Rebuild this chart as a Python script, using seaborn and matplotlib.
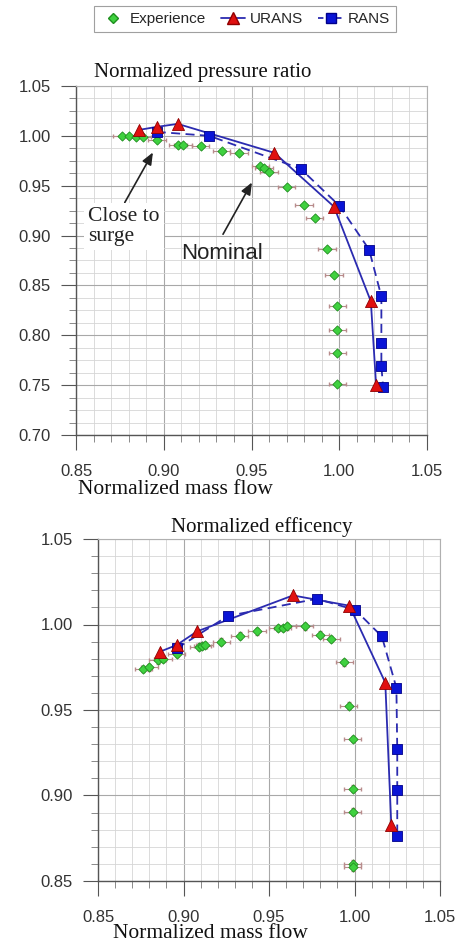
import numpy as np
import pandas as pd
import matplotlib
matplotlib.use("Agg")
import matplotlib.pyplot as plt
import seaborn as sns
from matplotlib.ticker import MultipleLocator, FormatStrFormatter
from matplotlib.lines import Line2D

# ---------------- data ----------------
# Normalized pressure ratio
exp_pr_x = [0.876, 0.880, 0.884, 0.888, 0.896, 0.908, 0.911, 0.921, 0.933, 0.943,
            0.955, 0.957, 0.960, 0.970, 0.980, 0.986, 0.993, 0.997, 0.999, 0.999,
            0.999, 0.999]
exp_pr_y = [1.000, 1.000, 0.999, 0.999, 0.996, 0.991, 0.991, 0.990, 0.985, 0.983,
            0.970, 0.968, 0.964, 0.949, 0.931, 0.918, 0.887, 0.860, 0.829, 0.805,
            0.782, 0.751]
urans_pr_x = [0.886, 0.896, 0.908, 0.963, 0.997, 1.018, 1.021]
urans_pr_y = [1.006, 1.009, 1.012, 0.983, 0.929, 0.834, 0.750]
rans_pr_x = [0.896, 0.926, 0.978, 1.000, 1.017, 1.024, 1.024, 1.024, 1.025]
rans_pr_y = [1.004, 1.000, 0.967, 0.930, 0.886, 0.839, 0.792, 0.769, 0.748]

# Normalized efficiency
exp_ef_x = [0.8765, 0.880, 0.885, 0.888, 0.896, 0.909, 0.911, 0.9125, 0.922, 0.933,
            0.943, 0.955, 0.958, 0.9605, 0.971, 0.980, 0.9865, 0.994, 0.9965, 0.999,
            0.999, 0.999, 0.999, 0.999]
exp_ef_y = [0.974, 0.975, 0.979, 0.980, 0.983, 0.987, 0.9875, 0.988, 0.990, 0.9935,
            0.996, 0.998, 0.998, 0.999, 0.999, 0.994, 0.9915, 0.978, 0.9525, 0.933,
            0.904, 0.8905, 0.860, 0.858]
urans_ef_x = [0.886, 0.896, 0.908, 0.964, 0.997, 1.018, 1.0215]
urans_ef_y = [0.984, 0.988, 0.996, 1.017, 1.011, 0.966, 0.883]
rans_ef_x = [0.896, 0.926, 0.978, 1.0005, 1.016, 1.0245, 1.025, 1.025, 1.025]
rans_ef_y = [0.986, 1.005, 1.015, 1.0085, 0.993, 0.963, 0.927, 0.903, 0.8765]

# ---------------- style ----------------
sns.set_theme(style="white")
plt.rcParams["font.family"] = ["Liberation Sans", "DejaVu Sans"]
SERIF = ["Liberation Serif", "DejaVu Serif"]

GREEN = "#3fd13f"
RED = "#e01010"
BLUE = "#0a14d6"
LINE = "#2b2bb0"

fig = plt.figure(figsize=(4.59, 9.42), dpi=100)
W, H = 459, 942
ax1 = fig.add_axes([76 / W, 1 - 435 / H, 351 / W, 349 / H])
ax2 = fig.add_axes([98 / W, 1 - 881 / H, 342 / W, 342 / H])


def draw(ax, ex, ey, ux, uy, rx, ry, xerr, yerr):
    ax.errorbar(ex, ey, xerr=xerr, yerr=yerr, fmt="none", ecolor="#b88c8c",
                elinewidth=0.8, capsize=1.5, zorder=3)
    sns.scatterplot(x=ex, y=ey, marker="D", s=22, color=GREEN, edgecolor="#1f8f1f",
                    linewidth=0.6, ax=ax, zorder=4)
    du = pd.DataFrame({"x": ux, "y": uy})
    dr = pd.DataFrame({"x": rx, "y": ry})
    sns.lineplot(data=du, x="x", y="y", sort=False, estimator=None, color=LINE,
                 lw=1.3, ax=ax, zorder=5)
    sns.lineplot(data=dr, x="x", y="y", sort=False, estimator=None, color=LINE,
                 lw=1.3, linestyle=(0, (5, 3)), ax=ax, zorder=5)
    sns.scatterplot(data=dr, x="x", y="y", marker="s", s=55, color=BLUE,
                    edgecolor="#00008a", linewidth=0.6, ax=ax, zorder=6)
    sns.scatterplot(data=du, x="x", y="y", marker="^", s=75, color=RED,
                    edgecolor="#900000", linewidth=0.6, ax=ax, zorder=7)


def style(ax, ylim, ystep, yminor):
    ax.set_xlim(0.85, 1.05)
    ax.set_ylim(*ylim)
    ax.xaxis.set_major_locator(MultipleLocator(0.05))
    ax.xaxis.set_minor_locator(MultipleLocator(0.01))
    ax.yaxis.set_major_locator(MultipleLocator(ystep))
    ax.yaxis.set_minor_locator(MultipleLocator(yminor))
    ax.xaxis.set_major_formatter(FormatStrFormatter("%.2f"))
    ax.yaxis.set_major_formatter(FormatStrFormatter("%.2f"))
    ax.set_axisbelow(True)
    ax.grid(which="major", color="#a8a8a8", lw=0.8)
    ax.grid(which="minor", color="#d6d6d6", lw=0.6)
    ax.tick_params(which="major", direction="out", length=11, width=0.8,
                   color="#555555", labelsize=12, labelcolor="#333333", pad=7,
                   left=True, bottom=True)
    ax.tick_params(axis="x", which="major", pad=10)
    ax.tick_params(which="minor", direction="out", length=5, width=0.6,
                   color="#777777", left=True, bottom=True)
    for s in ["left", "bottom"]:
        ax.spines[s].set_color("#555555")
        ax.spines[s].set_linewidth(1.0)
    for s in ["top", "right"]:
        ax.spines[s].set_color("#b0b0b0")
        ax.spines[s].set_linewidth(0.8)
    ax.set_xlabel("")
    ax.set_ylabel("")


draw(ax1, exp_pr_x, exp_pr_y, urans_pr_x, urans_pr_y, rans_pr_x, rans_pr_y, 0.005, 0.0)
style(ax1, (0.70, 1.05), 0.05, 0.0125)
draw(ax2, exp_ef_x, exp_ef_y, urans_ef_x, urans_ef_y, rans_ef_x, rans_ef_y, 0.005, 0.002)
style(ax2, (0.85, 1.05), 0.05, 0.01)

# annotations
ax1.annotate("", xy=(0.8946, 0.9858), xytext=(0.877, 0.9307),
             arrowprops=dict(arrowstyle="-|>,head_length=0.6,head_width=0.25",
                             color="#222222", lw=1.2), zorder=8)
ax1.text(0.8568, 0.9287, "Close to\nsurge", ha="left", va="top", family=SERIF,
         fontsize=15.5, linespacing=1.1, color="#222222", zorder=9,
         bbox=dict(fc="white", ec="none", pad=3))
ax1.annotate("", xy=(0.951, 0.9557), xytext=(0.933, 0.8989),
             arrowprops=dict(arrowstyle="-|>,head_length=0.6,head_width=0.25",
                             color="#222222", lw=1.2), zorder=8)
ax1.text(0.9332, 0.8825, "Nominal", ha="center", va="center", fontsize=16,
         color="#222222", zorder=9)

# titles / labels
fig.text(203 / W, 1 - 73 / H, "Normalized pressure ratio", ha="center", va="center",
         family=SERIF, fontsize=15, color="#111111")
fig.text(262 / W, 1 - 527 / H, "Normalized efficency", ha="center", va="center",
         family=SERIF, fontsize=15, color="#111111")
fig.text(175 / W, 1 - 490 / H, "Normalized mass flow", ha="center", va="center",
         family=SERIF, fontsize=15.5, color="#111111")
fig.text(210 / W, 1 - 934 / H, "Normalized mass flow", ha="center", va="center",
         family=SERIF, fontsize=15.5, color="#111111")

# legend
handles = [
    Line2D([], [], marker="D", ls="none", ms=5, mfc=GREEN, mec="#1f8f1f"),
    Line2D([], [], marker="^", ls="-", color=LINE, lw=1.3, ms=9, mfc=RED, mec="#900000"),
    Line2D([], [], marker="s", ls=(0, (3, 2)), color=LINE, lw=1.3, ms=7, mfc=BLUE, mec="#00008a"),
]
leg = fig.legend(handles, ["Experience", "URANS", "RANS"], ncol=3,
                 loc="center", bbox_to_anchor=(245 / W, 1 - 19 / H), fontsize=11,
                 frameon=True, fancybox=False, edgecolor="#888888",
                 handlelength=1.6, handletextpad=0.3, columnspacing=1.0,
                 borderpad=0.4)
leg.get_frame().set_linewidth(0.8)

fig.savefig("out.png", dpi=100)
